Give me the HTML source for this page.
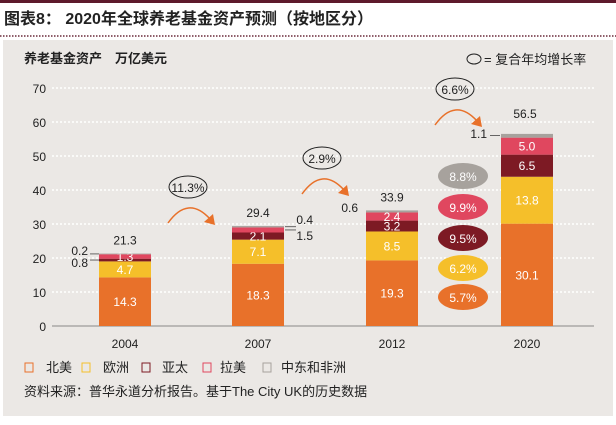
<!DOCTYPE html>
<html><head><meta charset="utf-8">
<style>
body{margin:0;width:616px;height:420px;background:#fff;overflow:hidden;font-family:"Liberation Sans","Noto Sans CJK SC",sans-serif;}
</style></head>
<body>
<svg width="616" height="420" xmlns="http://www.w3.org/2000/svg" font-family="Liberation Sans, Noto Sans CJK SC, sans-serif">
<rect x="0" y="0" width="616" height="3" fill="#5e1a2c"/>
<text x="4" y="24" font-size="16" font-weight="bold" fill="#222">图表8：  2020年全球养老基金资产预测（按地区分）</text>
<line x1="0" y1="36" x2="616" y2="36" stroke="#6a2a3a" stroke-width="1.5" stroke-dasharray="1.5,1.5"/>
<rect x="3" y="40" width="610" height="376" fill="#ebe8e5"/>
<text x="24" y="63" font-size="13" font-weight="bold" fill="#222">养老基金资产　万亿美元</text>
<ellipse cx="474" cy="59" rx="7" ry="5" fill="none" stroke="#222"/>
<text x="484" y="64" font-size="13" fill="#222">= 复合年均增长率</text>
<g id="grid"></g>
<g id="bars"></g>
<g id="extra"></g>
<g font-size="13" fill="#222">
<rect x="25" y="363" width="8" height="9" fill="none" stroke="#e8712a"/><text x="46" y="372">北美</text>
<rect x="82" y="363" width="8" height="9" fill="none" stroke="#f5bf2a"/><text x="103" y="372">欧洲</text>
<rect x="142" y="363" width="8" height="9" fill="none" stroke="#7d1a24"/><text x="162" y="372">亚太</text>
<rect x="203" y="363" width="8" height="9" fill="none" stroke="#e0475f"/><text x="220" y="372">拉美</text>
<rect x="263" y="363" width="8" height="9" fill="none" stroke="#a7a29d"/><text x="281" y="372">中东和非洲</text>
</g>
<text x="24" y="396" font-size="13" fill="#222">资料来源：普华永道分析报告。基于The City UK的历史数据</text>
</svg>
<script>
const categories=["2004","2007","2012","2020"];
const northAmerica=[14.3,18.3,19.3,30.1];
const europe=[4.7,7.1,8.5,13.8];
const apac=[0.8,2.1,3.2,6.5];
const latam=[1.3,1.5,2.4,5.0];
const mea=[0.2,0.4,0.6,1.1];
const totals=[21.3,29.4,33.9,56.5];
const yTicks=[0,10,20,30,40,50,60,70];
const cagrLabels=["11.3%","2.9%","6.6%"];
const regionCagr=["5.7%","6.2%","9.5%","9.9%","8.8%"];
const NS="http://www.w3.org/2000/svg";
const colors=["#e8712a","#f5bf2a","#7d1a24","#e0475f","#a7a29d"];
const y0=326,pxPer=3.4;
function yS(v){return y0-v*pxPer;}
const centers=[125,258,392,527];
function xS(i){return centers[i];}
const bw=52;
function el(tag,attrs,parent,txt){const e=document.createElementNS(NS,tag);for(const k in attrs)e.setAttribute(k,attrs[k]);if(txt!==undefined)e.textContent=txt;parent.appendChild(e);return e;}
const grid=document.getElementById('grid');
yTicks.forEach(t=>{
  const l=el('line',{x1:52,x2:594,y1:yS(t),y2:yS(t),stroke:t===0?'#888':'#fff','stroke-width':t===0?1:1.5,'stroke-dasharray':t===0?'':'2,2'},grid);
  
  
  const tx=el('text',{x:46,y:yS(t)+5,'text-anchor':'end','font-size':12,fill:'#222'},grid,t);
  
  
});
const bars=document.getElementById('bars');
const series=[northAmerica,europe,apac,latam,mea];
const sNames=['north-america','europe','apac','latam','mea'];
categories.forEach((c,i)=>{
  let cum=0;
  series.forEach((s,k)=>{
    const v=s[i];
    const r=el('rect',{x:xS(i)-bw/2,y:yS(cum+v),width:bw,height:v*pxPer,fill:colors[k]},bars);
    
    
    const inner=k<2 || (k===2 && i>0) || (k===3 && i!==1);
    if(k<4 && inner){
      const t=el('text',{x:xS(i),y:yS(cum+v/2)+4.5,'text-anchor':'middle','font-size':12,fill:'#fff'},bars,v.toFixed(1));
      
      
    }
    cum+=v;
  });
  const tl=el('text',{x:xS(i)+(i===3?-2:0),y:yS(totals[i])-(i===3?16:9),'text-anchor':'middle','font-size':12,fill:'#222'},bars,totals[i].toFixed(1));
  
  
  const xl=el('text',{x:xS(i),y:348,'text-anchor':'middle','font-size':12,fill:'#222'},bars,c);
  
  
});
const ex=document.getElementById('extra');
function small(txt,x,y,lx1,ly,lx2,name){
  const t=el('text',{x:x,y:y,'font-size':12,fill:'#222','text-anchor':'end'},ex,txt);
  
  
  if(lx1!==null){const l=el('line',{x1:lx1,y1:ly,x2:lx2,y2:ly,stroke:'#444','stroke-width':0.8},ex);
  
  }
}
small(mea[0].toFixed(1),88,255,90,yS(totals[0]-0.1),99,'mea-label-2004');
small(apac[0].toFixed(1),88,267,90,yS(northAmerica[0]+europe[0]+apac[0]/2),99,'apac-label-2004');
small(mea[1].toFixed(1),313,224,285,yS(totals[1]-0.2),296,'mea-label-2007');
small(latam[1].toFixed(1),313,240,285,yS(totals[1]-mea[1]-latam[1]/2),296,'latam-label-2007');
small(mea[2].toFixed(1),358,212,null,0,0,'mea-label-2012');
small(mea[3].toFixed(1),487,138,490,yS(totals[3]-0.5),500,'mea-label-2020');
const cg=[[188,187],[322,158],[455,89]];
cagrLabels.forEach((l,i)=>{
  const e=el('ellipse',{cx:cg[i][0],cy:cg[i][1],rx:19,ry:11,fill:'none',stroke:'#222'},ex);
  
  
  const t=el('text',{x:cg[i][0],y:cg[i][1]+5,'text-anchor':'middle','font-size':12,fill:'#222'},ex,l);
  
  
  const ax=cg[i][0]-20,ay=cg[i][1]+36;
  const p=el('path',{d:`M${ax} ${ay} Q${ax+20} ${ay-28} ${ax+42} ${ay-4}`,fill:'none',stroke:'#e8712a','stroke-width':1.5},ex);
  
  
  const h=el('polygon',{points:`${ax+47} ${ay+2} ${ax+36} ${ay-1} ${ax+45} ${ay-9}`,fill:'#e8712a'},ex);
  
  
});
const bys=[297,268,238,207,176];
regionCagr.forEach((l,k)=>{
  const e=el('ellipse',{cx:463,cy:bys[k],rx:25,ry:13,fill:colors[k]},ex);
  
  
  const t=el('text',{x:463,y:bys[k]+5,'text-anchor':'middle','font-size':12,fill:'#fff'},ex,l);
  
  
});
</script>
</body></html>
